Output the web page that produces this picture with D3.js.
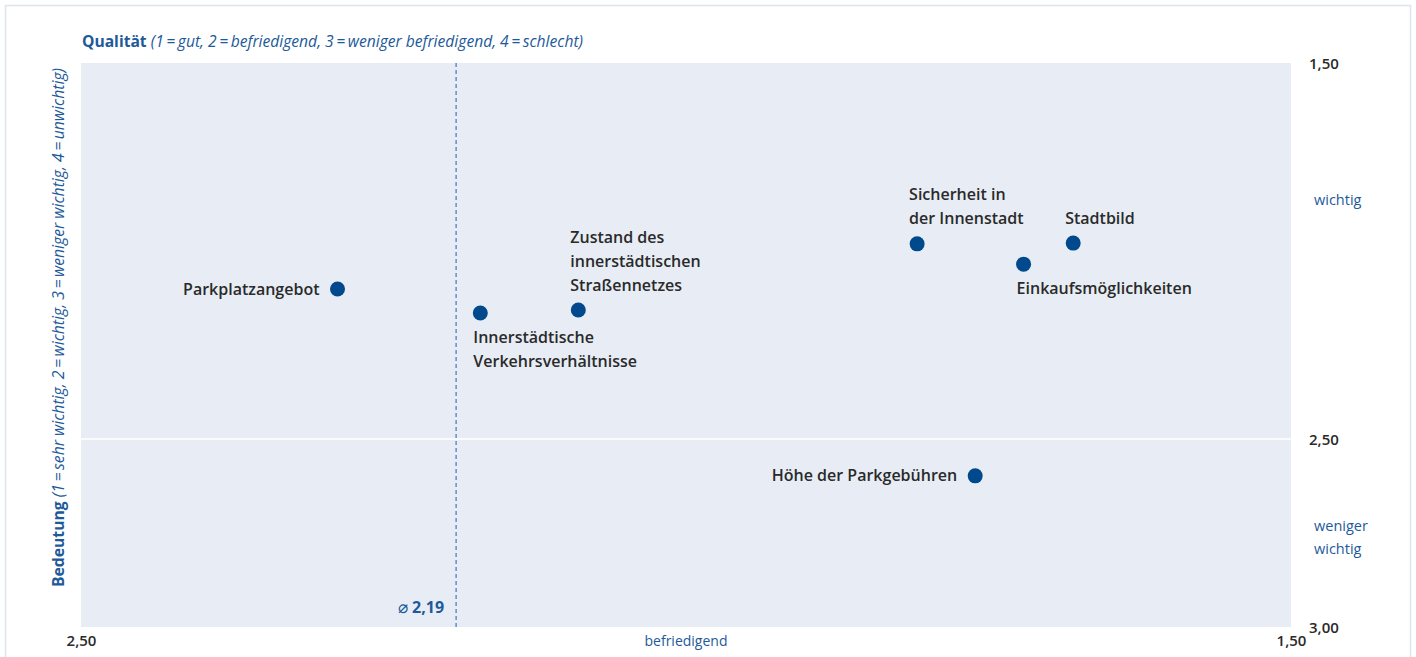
<!DOCTYPE html>
<html>
<head>
<meta charset="utf-8">
<script src="https://cdn.jsdelivr.net/npm/d3@7"></script>
<style>
  body { margin: 0; background: #fff; }
  svg { display: block; }
</style>
</head>
<body>
<svg id="chart" width="1416" height="657"></svg>
<script>
// Qualität (x) / Bedeutung (y)
const names = ["Parkplatzangebot", "Innerstädtische Verkehrsverhältnisse", "Zustand des innerstädtischen Straßennetzes",
  "Sicherheit in der Innenstadt", "Einkaufsmöglichkeiten", "Stadtbild", "Höhe der Parkgebühren"]
const qualitaet = [2.288, 2.170, 2.089, 1.809, 1.721, 1.680, 1.761]
const bedeutung = [2.101, 2.165, 2.157, 1.981, 2.035, 1.979, 2.598]
const labelLines = [["Parkplatzangebot"], ["Innerstädtische", "Verkehrsverhältnisse"], ["Zustand des", "innerstädtischen", "Straßennetzes"],
  ["Sicherheit in", "der Innenstadt"], ["Einkaufsmöglichkeiten"], ["Stadtbild"], ["Höhe der Parkgebühren"]]
const labelPos = ["left", "below", "above", "above", "below", "above", "left"]

const xTicks = [2.5, 1.5]
const yTicks = [1.5, 2.5, 3.0]
const avgQualitaet = 2.19

const width = 1416, height = 657
const margin = {top: 63, right: 125, bottom: 30, left: 81}

const svg = d3.select("#chart")
const blue = "#1d5a9a", dot = "#00498c", dark = "#2a2a2a"
const fmt = v => d3.format(".2f")(v).replace(".", ",")

// outer frame
svg.append("rect")
  .attr("x", 5.5).attr("y", 5.5)
  .attr("width", width - 11).attr("height", height + 20)
  .attr("fill", "none").attr("stroke", "#dce5ef").attr("stroke-width", 1.5)

const x = d3.scaleLinear().domain([2.5, 1.5]).range([margin.left, width - margin.right])
const y = d3.scaleLinear().domain([1.5, 3.0]).range([margin.top, height - margin.bottom])

svg.append("rect")
  .attr("x", x(2.5)).attr("y", y(1.5))
  .attr("width", x(1.5) - x(2.5)).attr("height", y(3.0) - y(1.5))
  .attr("fill", "#e8edf5")

// white mid line at 2,50
svg.append("line")
  .attr("x1", x(2.5)).attr("x2", x(1.5))
  .attr("y1", y(2.5)).attr("y2", y(2.5))
  .attr("stroke", "#fff").attr("stroke-width", 1.5)

// average line
svg.append("line")
  .attr("x1", x(avgQualitaet)).attr("x2", x(avgQualitaet))
  .attr("y1", y(1.5)).attr("y2", y(3.0))
  .attr("stroke", "#3b78c0").attr("stroke-width", 1.2)
  .attr("stroke-dasharray", "4,3")

const avgLabel = svg.append("text")
  .attr("x", x(avgQualitaet) - 12).attr("y", 607).attr("dy", "0.35em")
  .attr("text-anchor", "end")
  .attr("font-family", "Open Sans").attr("font-size", 16).attr("fill", blue)
avgLabel.append("tspan").attr("font-weight", 400).attr("font-size", 17).text("⌀ ")
avgLabel.append("tspan").attr("font-weight", 700).text(fmt(avgQualitaet))

// axes (labels only)
const yAxis = svg.append("g")
  .attr("transform", `translate(${x(1.5) + 18},0)`)
  .call(d3.axisRight(y).tickValues(yTicks).tickSize(0).tickFormat(fmt))
yAxis.select(".domain").remove()
yAxis.selectAll("text")
  .attr("x", 0).attr("dy", "0.35em")
  .attr("font-family", "Open Sans").attr("font-size", 15).attr("font-weight", 600).attr("fill", dark)
  .attr("text-anchor", "start")

const xAxis = svg.append("g")
  .attr("transform", `translate(0,${y(3.0)})`)
  .call(d3.axisBottom(x).tickValues(xTicks).tickSize(0).tickFormat(fmt))
xAxis.select(".domain").remove()
xAxis.selectAll("text")
  .attr("y", 14).attr("dy", "0.35em")
  .attr("font-family", "Open Sans").attr("font-size", 15).attr("font-weight", 600).attr("fill", dark)

// axis annotations
svg.append("text")
  .attr("x", (x(2.5) + x(1.5)) / 2).attr("y", 641).attr("dy", "0.35em")
  .attr("text-anchor", "middle")
  .attr("font-family", "Open Sans").attr("font-size", 14).attr("fill", blue)
  .text("befriedigend")

const sideNotes = [{v: 1.865, lines: ["wichtig"]}, {v: 2.73, lines: ["weniger", "wichtig"]}]
sideNotes.forEach(n => {
  const t = svg.append("text")
    .attr("x", x(1.5) + 23).attr("y", y(n.v))
    .attr("font-family", "Open Sans").attr("font-size", 14.5).attr("fill", blue)
  n.lines.forEach((l, i) => t.append("tspan").attr("x", x(1.5) + 23).attr("dy", i == 0 ? "0.35em" : 23).text(l))
})

// titles
const xTitle = svg.append("text")
  .attr("x", 82).attr("y", 41).attr("dy", "0.35em")
  .attr("textLength", 501).attr("lengthAdjust", "spacingAndGlyphs")
  .attr("font-family", "Open Sans").attr("font-size", 16).attr("fill", blue)
xTitle.append("tspan").attr("font-weight", 700).text("Qualität ")
xTitle.append("tspan").attr("font-style", "italic").text("(1\u2009=\u2009gut, 2\u2009=\u2009befriedigend, 3\u2009=\u2009weniger befriedigend, 4\u2009=\u2009schlecht)")

const yTitle = svg.append("text")
  .attr("transform", "translate(58,587) rotate(-90)").attr("dy", "0.35em")
  .attr("textLength", 519).attr("lengthAdjust", "spacingAndGlyphs")
  .attr("font-family", "Open Sans").attr("font-size", 16).attr("fill", blue)
yTitle.append("tspan").attr("font-weight", 700).text("Bedeutung ")
yTitle.append("tspan").attr("font-style", "italic").text("(1\u2009=\u2009sehr wichtig, 2\u2009=\u2009wichtig, 3\u2009=\u2009weniger wichtig, 4\u2009=\u2009unwichtig)")

// points
const data = names.map((n, i) => ({name: n, q: qualitaet[i], b: bedeutung[i], lines: labelLines[i], pos: labelPos[i]}))

const pts = svg.append("g").selectAll("g")
  .data(data)
  .join("g")
  .attr("transform", d => `translate(${x(d.q)},${y(d.b)})`)

pts.append("circle").attr("r", 7.5).attr("fill", dot)

pts.append("text")
  .attr("font-family", "Open Sans").attr("font-size", 16).attr("font-weight", 600).attr("fill", dark)
  .attr("text-anchor", d => d.pos == "left" ? "end" : "start")
  .each(function(d) {
    const t = d3.select(this)
    const n = d.lines.length
    d.lines.forEach((l, i) => {
      let dx, dy
      if (d.pos == "left") { dx = -18; dy = 0 }
      else if (d.pos == "below") { dx = -7; dy = 24 + i * 24 }
      else { dx = -8; dy = -25 - (n - 1 - i) * 24 }
      t.append("tspan").attr("x", dx).attr("y", dy).attr("dy", "0.35em").text(l)
    })
  })
</script>
</body>
</html>
